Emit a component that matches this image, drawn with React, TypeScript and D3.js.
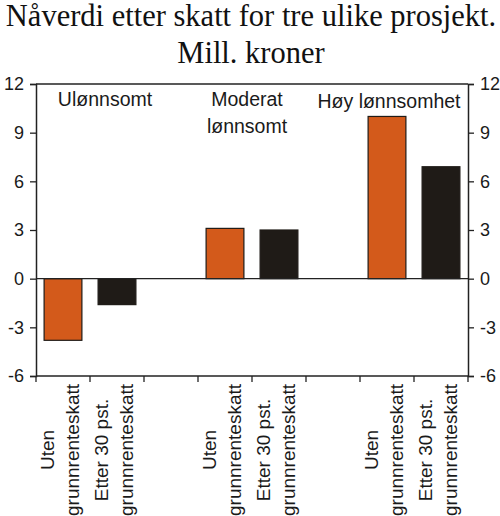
import { useEffect, useRef } from "react";
import * as d3 from "d3";

// Chart data
const groups = ["Ulønnsomt", "Moderat lønnsomt", "Høy lønnsomhet"];
const utenValues = [-3.8, 3.1, 10.0];
const etterValues = [-1.6, 3.0, 6.9];
const seriesNames = ["Uten grunnrenteskatt", "Etter 30 pst. grunnrenteskatt"];
const seriesLabelLines = [["Uten", "grunnrenteskatt"], ["Etter 30 pst.", "grunnrenteskatt"]];
const seriesColors = ["#d35a1b", "#1f1b17"];
const yTicks = [-6, -3, 0, 3, 6, 9, 12];
const titleLines = ["Nåverdi etter skatt for tre ulike prosjekt.", "Mill. kroner"];

// group label lines (split for layout)
const groupLabelLines = [["Ulønnsomt"], ["Moderat", "lønnsomt"], ["Høy lønnsomhet"]];
const groupLabelPos = [
  { x: 105, y: 106 },
  { x: 247, y: 106 },
  { x: 389, y: 108 },
];

const SANS = "'Liberation Sans', Arial, Helvetica, sans-serif";
const SERIF = "'Liberation Serif', 'Times New Roman', serif";

export default function App() {
  const svgRef = useRef<SVGSVGElement>(null);

  useEffect(() => {
    document.body.style.margin = "0";
    const width = 500;
    const height = 516;
    const svg = d3.select(svgRef.current);
    svg.selectAll("*").remove();
    svg.attr("width", width).attr("height", height);

    const margin = { top: 84, right: 32, bottom: 140, left: 36 };
    const x0 = margin.left;
    const x1 = width - margin.right;
    const yTop = margin.top;
    const yBot = height - margin.bottom;

    // slots: two bars per group, one empty slot between groups
    const slotKeys: string[] = [];
    groups.forEach((g, gi) => {
      seriesNames.forEach((s) => slotKeys.push(`${g}|${s}`));
      if (gi < groups.length - 1) slotKeys.push(`gap${gi}`);
    });

    const xScale = d3.scaleBand<string>()
      .domain(slotKeys)
      .range([x0, x1])
      .paddingInner(0.3)
      .paddingOuter(0.15);
    const step = xScale.step();

    const yScale = d3.scaleLinear().domain([-6, 12]).range([yBot, yTop]);

    // Title
    svg.append("g").selectAll("text")
      .data(titleLines)
      .enter().append("text")
      .attr("x", width / 2 + 1)
      .attr("y", (_, i) => 26 + i * 37)
      .attr("text-anchor", "middle")
      .attr("font-family", SERIF)
      .attr("font-size", 30.5)
      .attr("fill", "#111")
      .text(d => d);

    const bars = groups.flatMap((g, gi) => [
      { key: `${g}|${seriesNames[0]}`, value: utenValues[gi], color: seriesColors[0] },
      { key: `${g}|${seriesNames[1]}`, value: etterValues[gi], color: seriesColors[1] },
    ]);

    // Bars
    svg.append("g").selectAll("rect")
      .data(bars)
      .enter().append("rect")
      .attr("x", d => xScale(d.key)!)
      .attr("width", xScale.bandwidth())
      .attr("y", d => yScale(Math.max(0, d.value)))
      .attr("height", d => Math.abs(yScale(d.value) - yScale(0)))
      .attr("fill", d => d.color)
      .attr("stroke", "#1f1b17")
      .attr("stroke-width", 1.2);

    // Zero line
    svg.append("line")
      .attr("x1", x0).attr("x2", x1)
      .attr("y1", yScale(0)).attr("y2", yScale(0))
      .attr("stroke", "#222").attr("stroke-width", 1.3);

    const axisStyle = (ax: d3.Selection<SVGGElement, unknown, null, undefined>) => {
      ax.select(".domain").attr("stroke", "#222").attr("stroke-width", 1.5);
      ax.selectAll(".tick line").attr("stroke", "#222").attr("stroke-width", 1.3);
      ax.selectAll(".tick text")
        .attr("fill", "#1a1a1a")
        .attr("font-size", 18)
        .attr("font-family", SANS);
    };
    const fmt = (d: d3.NumberValue) => String(d);

    // Left and right axes
    svg.append("g")
      .attr("transform", `translate(${x0},0)`)
      .call(d3.axisLeft(yScale).tickValues(yTicks).tickFormat(fmt).tickSize(6).tickSizeOuter(6).tickPadding(6))
      .call(axisStyle);
    svg.append("g")
      .attr("transform", `translate(${x1},0)`)
      .call(d3.axisRight(yScale).tickValues(yTicks).tickFormat(fmt).tickSize(6).tickSizeOuter(6).tickPadding(6))
      .call(axisStyle);

    // Top frame line
    svg.append("line")
      .attr("x1", x0).attr("x2", x1)
      .attr("y1", yTop).attr("y2", yTop)
      .attr("stroke", "#222").attr("stroke-width", 1.5);

    // Bottom axis with ticks at slot boundaries
    const boundaries = d3.range(slotKeys.length + 1).map(i => x0 + i * step);
    svg.append("line")
      .attr("x1", x0).attr("x2", x1)
      .attr("y1", yBot).attr("y2", yBot)
      .attr("stroke", "#222").attr("stroke-width", 1.5);
    svg.append("g").selectAll("line")
      .data(boundaries)
      .enter().append("line")
      .attr("x1", d => d).attr("x2", d => d)
      .attr("y1", yBot).attr("y2", yBot + 6)
      .attr("stroke", "#222").attr("stroke-width", 1.3);

    // Rotated category labels
    const catLabels = bars.map((b, i) => ({ key: b.key, lines: seriesLabelLines[i % 2] }));
    const lab = svg.append("g").selectAll("text")
      .data(catLabels)
      .enter().append("text")
      .attr("transform", d => `translate(${xScale(d.key)! + xScale.bandwidth() / 2},450) rotate(-90)`)
      .attr("text-anchor", "middle")
      .attr("font-family", SANS)
      .attr("font-size", 19)
      .attr("fill", "#1a1a1a");
    lab.selectAll("tspan")
      .data(d => d.lines)
      .enter().append("tspan")
      .attr("x", 0)
      .attr("y", (_, i) => (i === 0 ? -9.5 : 16))
      .text(d => d);

    // Group labels inside the plot
    const gl = svg.append("g").selectAll("text")
      .data(groupLabelLines)
      .enter().append("text")
      .attr("text-anchor", "middle")
      .attr("font-family", SANS)
      .attr("font-size", 19.5)
      .attr("fill", "#1a1a1a");
    gl.selectAll("tspan")
      .data((d, i) => d.map(line => ({ line, pos: groupLabelPos[i] })))
      .enter().append("tspan")
      .attr("x", d => d.pos.x)
      .attr("y", (d, j) => d.pos.y + j * 26.5)
      .text(d => d.line);
  }, []);

  return <svg ref={svgRef} style={{ display: "block" }} />;
}
